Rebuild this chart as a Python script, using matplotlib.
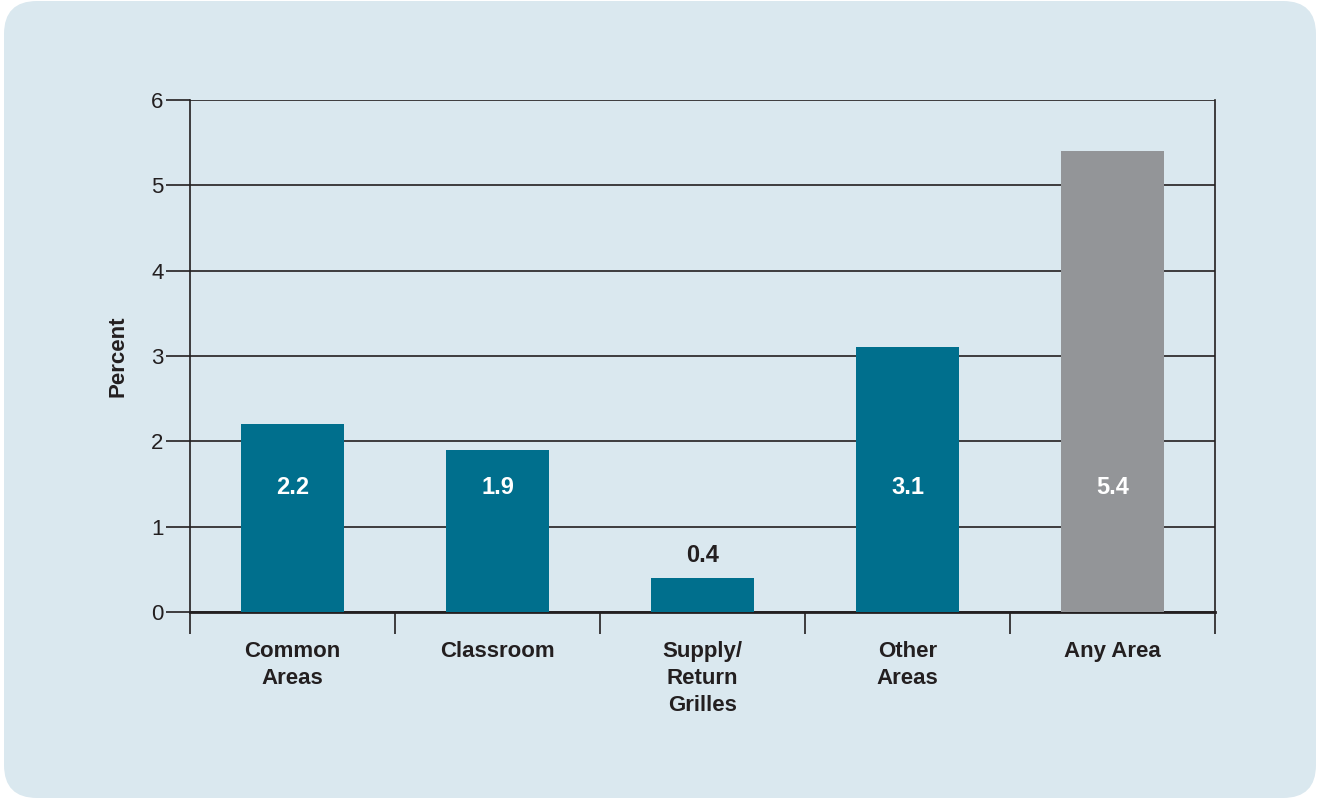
import matplotlib
matplotlib.use("Agg")
import matplotlib.pyplot as plt
from matplotlib.patches import FancyBboxPatch
from matplotlib import font_manager

categories = ["Common\nAreas", "Classroom", "Supply/\nReturn\nGrilles", "Other\nAreas", "Any Area"]
values = [2.2, 1.9, 0.4, 3.1, 5.4]
value_labels = ["2.2", "1.9", "0.4", "3.1", "5.4"]
yticks = [0, 1, 2, 3, 4, 5, 6]

names = {f.name for f in font_manager.fontManager.ttflist}
cond = "Liberation Sans Narrow" if "Liberation Sans Narrow" in names else "Liberation Sans"
plt.rcParams['font.family'] = [cond, 'DejaVu Sans']

BG = "#dae8ef"
TEAL = "#006f8d"
GREY = "#939598"
INK = "#231f20"

fig = plt.figure(figsize=(13.22, 8.01), dpi=100)
fig.patch.set_facecolor("white")
bg = FancyBboxPatch((4/1322, 3/801), 1312/1322, 797/801,
                    boxstyle="round,pad=0,rounding_size=0.025",
                    transform=fig.transFigure, facecolor=BG, edgecolor="none",
                    mutation_aspect=1322/801, zorder=-10)
fig.patches.append(bg)

ax = fig.add_axes([190/1322, 1 - 612/801, 1025/1322, 512/801])
ax.set_zorder(5)
ax.set_facecolor("none")
x = list(range(len(categories)))
colors = [TEAL, TEAL, TEAL, TEAL, GREY]
ax.bar(x, values, width=0.5, color=colors, zorder=3)
ax.set_xlim(-0.5, len(categories) - 0.5)
ax.set_ylim(0, 6)
ax.set_yticks(yticks)
ax.set_yticklabels([str(t) for t in yticks], fontsize=16, color=INK)
ax.grid(axis='y', color=INK, linewidth=1.2, zorder=1)
ax.tick_params(axis='y', length=17, width=1.2, color=INK, pad=2)

# category boundary ticks
ax.set_xticks([i - 0.5 for i in range(len(categories) + 1)])
ax.set_xticklabels([])
ax.tick_params(axis='x', length=16, width=1.2, color=INK)
for i, c in enumerate(categories):
    ax.text(i, -0.34, c, ha='center', va='top', fontsize=16, fontweight='bold',
            color=INK, linespacing=1.36)

for s in ['left', 'right', 'bottom']:
    ax.spines[s].set_color(INK)
    ax.spines[s].set_linewidth(1.2)
ax.spines['top'].set_visible(False)
ax.spines['bottom'].set_linewidth(2)

for i, (v, lab) in enumerate(zip(values, value_labels)):
    if v > 1.0:
        ax.text(i, 1.46, lab, ha='center', va='center', fontsize=17,
                fontweight='bold', color='white', zorder=4)
    else:
        ax.text(i, v + 0.26, lab, ha='center', va='center', fontsize=17,
                fontweight='bold', color=INK, zorder=4)

ax.set_ylabel("Percent", fontsize=16, fontweight='bold', color=INK, labelpad=16)

fig.savefig("out.png", dpi=100, facecolor=fig.get_facecolor())
